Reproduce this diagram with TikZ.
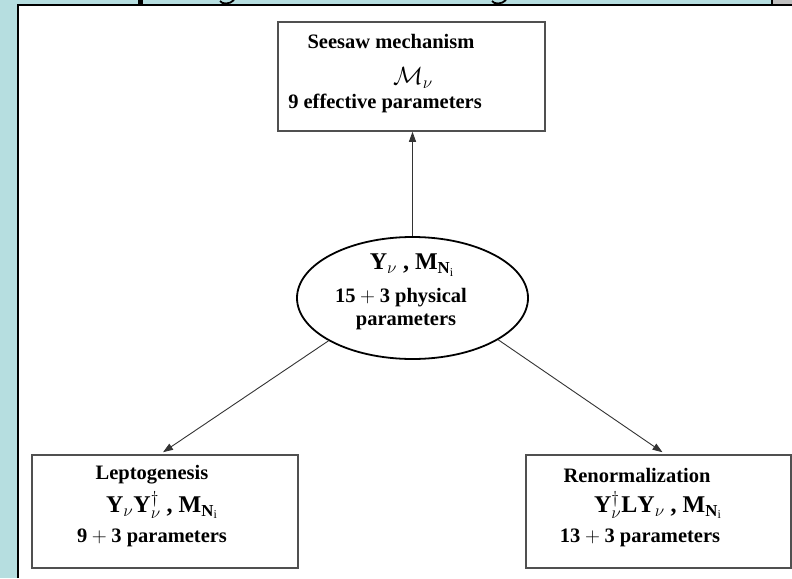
\documentclass[tikz,border=0pt]{standalone}
\usepackage{fontspec}
\setmainfont{Liberation Serif}
\usetikzlibrary{arrows.meta,shapes.geometric}
\definecolor{bgblue}{HTML}{B6DEE0}
\definecolor{boxgray}{HTML}{505050}
\begin{document}
\begin{tikzpicture}[x=1pt,y=-1pt,
  box/.style={draw=boxgray,line width=1.5pt,inner sep=0pt},
  txt/.style={font=\fontsize{20.5}{24}\selectfont\bfseries,inner sep=0pt,anchor=center},
  mth/.style={font=\fontsize{24}{28}\selectfont\bfseries,inner sep=0pt,anchor=center},
  arr/.style={draw=black!80,line width=0.9pt,-{Triangle[length=10pt,width=7pt]}}]
\fill[bgblue] (0,0) rectangle (792,578);
\useasboundingbox (0,0) rectangle (792,578);
\fill[white] (18,5) rectangle (792,578);
\fill[gray!50] (772,0) rectangle (792,5);
\draw[line width=1.5pt] (18,578) -- (18,5) -- (792,5);
\draw[line width=1.2pt] (772,0) -- (772,5);
% cut-off title fragments
\fill (138,0) rectangle (143,5);
\draw[line width=1.8pt] (220,1) .. controls (222,4.5) and (230,4.5) .. (234,0);
\draw[line width=1.8pt] (492,1) .. controls (494,4.5) and (502,4.5) .. (506,0);
% boxes
\node[box,minimum width=267pt,minimum height=109pt] (top) at (411.5,76.5) {};
\node[box,minimum width=266pt,minimum height=113pt] (lbox) at (165,511.5) {};
\node[box,minimum width=265pt,minimum height=113pt] (rbox) at (658.5,511.5) {};
\node[draw,ellipse,line width=1.8pt,minimum width=231pt,minimum height=122pt,inner sep=0pt] (ell) at (412.5,298) {};
% texts
\node[txt] (t1) at (391,41) {Seesaw mechanism};
\node[mth] (t2) at (413,78) {$\mathcal{M}_\nu$};
\node[txt] (t3) at (385,103) {9 effective parameters};
\node[mth] (e1) at (412,265) {$\mathbf{Y}_\nu$ , $\mathbf{M}_{\mathbf{N}_\mathrm{i}}$};
\node[txt] (e2) at (401,298) {15${}+{}$3 physical};
\node[txt] (e3) at (406,322) {parameters};
\node[txt] (l1) at (152,475) {Leptogenesis};
\node[mth] (l2) at (162,505) {$\mathbf{Y}_\nu\mathbf{Y}_\nu^\dagger$ , $\mathbf{M}_{\mathbf{N}_\mathrm{i}}$};
\node[txt] (l3) at (152,538) {9${}+{}$3 parameters};
\node[txt] (r1) at (637,475) {Renormalization};
\node[mth] (r2) at (658,505) {$\mathbf{Y}_\nu^\dagger\mathbf{L}\mathbf{Y}_\nu$ , $\mathbf{M}_{\mathbf{N}_\mathrm{i}}$};
\node[txt] (r3) at (640,538) {13${}+{}$3 parameters};
% arrows
\draw[arr] (ell.north) -- (ell.north |- top.south);
\draw[arr] (ell.207) -- ([xshift=-2pt,yshift=2pt]lbox.north);
\draw[arr] (ell.334) -- ([xshift=4pt,yshift=2pt]rbox.north);
\end{tikzpicture}
\end{document}
